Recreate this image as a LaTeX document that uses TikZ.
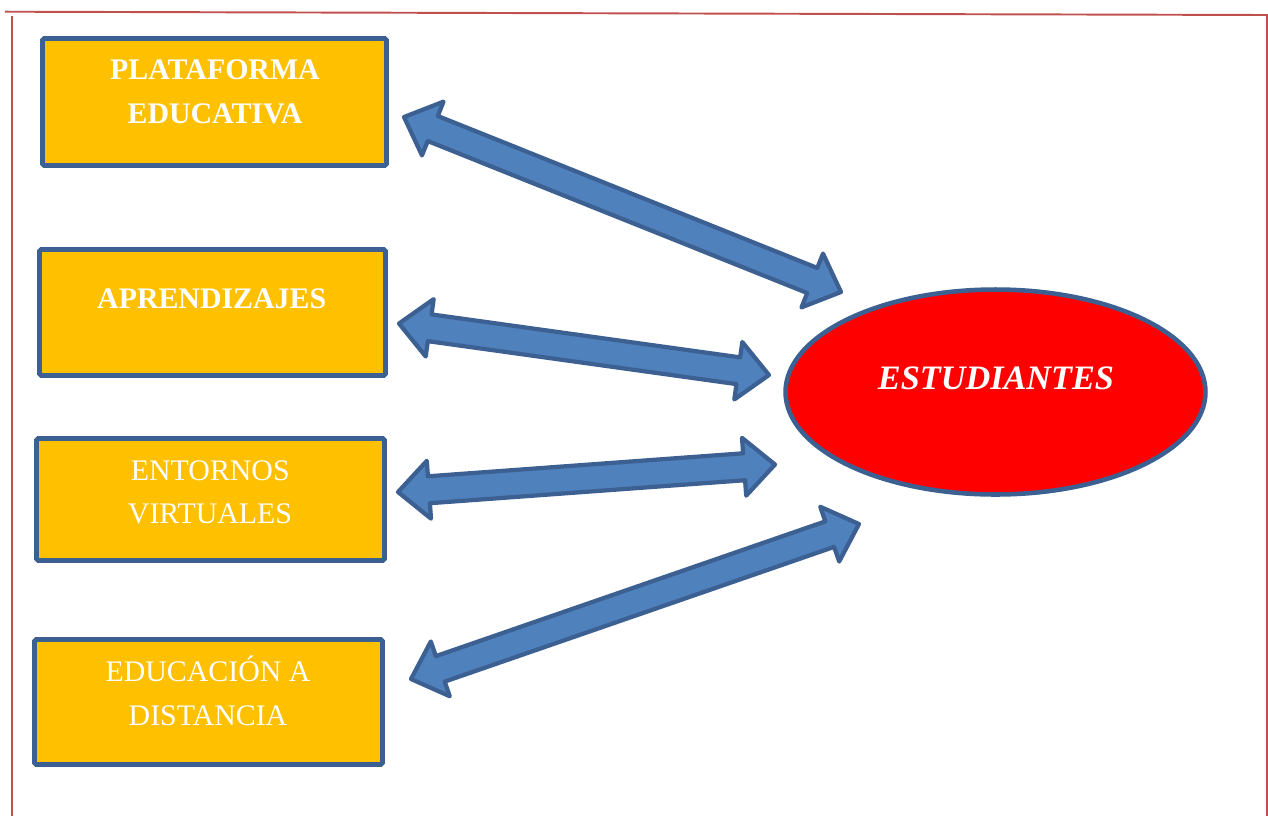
\documentclass[tikz,border=0pt]{standalone}
\usepackage{fontspec}
\setmainfont{Liberation Serif}
\usetikzlibrary{calc,shapes.geometric}
\definecolor{boxfill}{HTML}{FFC000}
\definecolor{edgeblue}{HTML}{3C6091}
\definecolor{arrfill}{HTML}{4F81BD}
\definecolor{framered}{HTML}{C0504D}
\newcommand{\ahl}{0.62cm}
\newcommand{\ahw}{0.58cm}
\newcommand{\asw}{0.27cm}
\newcommand{\dblarr}[2]{%
  \path[dblarrow] (#1)
    -- ($(#1)!\ahl!(#2)!\ahw!90:(#2)$)
    -- ($(#1)!\ahl!(#2)!\asw!90:(#2)$)
    -- ($(#2)!\ahl!(#1)!\asw!-90:(#1)$)
    -- ($(#2)!\ahl!(#1)!\ahw!-90:(#1)$)
    -- (#2)
    -- ($(#2)!\ahl!(#1)!\ahw!90:(#1)$)
    -- ($(#2)!\ahl!(#1)!\asw!90:(#1)$)
    -- ($(#1)!\ahl!(#2)!\asw!-90:(#2)$)
    -- ($(#1)!\ahl!(#2)!\ahw!-90:(#2)$)
    -- cycle;}
\begin{document}
\begin{tikzpicture}[x=0.02cm,y=-0.02cm,
  boxnode/.style={draw=edgeblue, line width=2.8pt, fill=boxfill, rounded corners=1pt, inner sep=0pt},
  boldtxt/.style={text=white, font=\fontsize{17}{20}\selectfont\bfseries, anchor=base, inner sep=0pt},
  regtxt/.style={text=white, font=\fontsize{17}{20}\selectfont, anchor=base, inner sep=0pt},
  dblarrow/.style={draw=edgeblue, fill=arrfill, line width=2.4pt, line join=round},
  frameline/.style={draw=framered, line width=1.1pt}]
\useasboundingbox (0,0) rectangle (1268,816);
% frame
\coordinate (ftl) at (5,11.7);
\coordinate (ftr) at (1268,15);
\coordinate (flt) at (12,16);
\coordinate (flb) at (12,816);
\coordinate (frt) at (1267,15);
\coordinate (frb) at (1267,816);
\draw[frameline] (ftl) -- (ftr);
\draw[frameline] (flt) -- (flb);
\draw[frameline] (frt) -- (frb);
% boxes
\node[boxnode, minimum width=6.88cm, minimum height=2.54cm] (b1) at (214.5,102) {};
\node[boxnode, minimum width=6.92cm, minimum height=2.52cm] (b2) at (212.5,312.5) {};
\node[boxnode, minimum width=6.96cm, minimum height=2.44cm] (b3) at (210.5,499.5) {};
\node[boxnode, minimum width=6.96cm, minimum height=2.50cm] (b4) at (208.5,702) {};
\node[boldtxt] (t1a) at (215,79.3) {PLATAFORMA};
\node[boldtxt] (t1b) at (215,123.3) {EDUCATIVA};
\node[boldtxt] (t2a) at (211.7,308.3) {APRENDIZAJES};
\node[regtxt] (t3a) at (210.3,480) {ENTORNOS};
\node[regtxt] (t3b) at (210,523.3) {VIRTUALES};
\node[regtxt] (t4a) at (208,681.7) {EDUCACIÓN A};
\node[regtxt] (t4b) at (208,725) {DISTANCIA};
% ellipse
\node[ellipse, draw=edgeblue, fill=red, line width=2.6pt, minimum width=8.4cm, minimum height=4.1cm, inner sep=0pt] (stud) at (995.5,392) {};
\node[text=white, font=\fontsize{19.5}{22}\selectfont\bfseries\itshape, anchor=base, inner sep=0pt] (studtxt) at (996,389) {ESTUDIANTES};
% arrows
\coordinate (a1l) at (404,117);
\coordinate (a1r) at (841,292);
\coordinate (a2l) at (399,323.5);
\coordinate (a2r) at (769,375);
\coordinate (a3l) at (398,492);
\coordinate (a3r) at (775,464.5);
\coordinate (a4l) at (411,679);
\coordinate (a4r) at (859,524);
\dblarr{a1l}{a1r}
\dblarr{a2l}{a2r}
\dblarr{a3l}{a3r}
\dblarr{a4l}{a4r}
\end{tikzpicture}
\end{document}
